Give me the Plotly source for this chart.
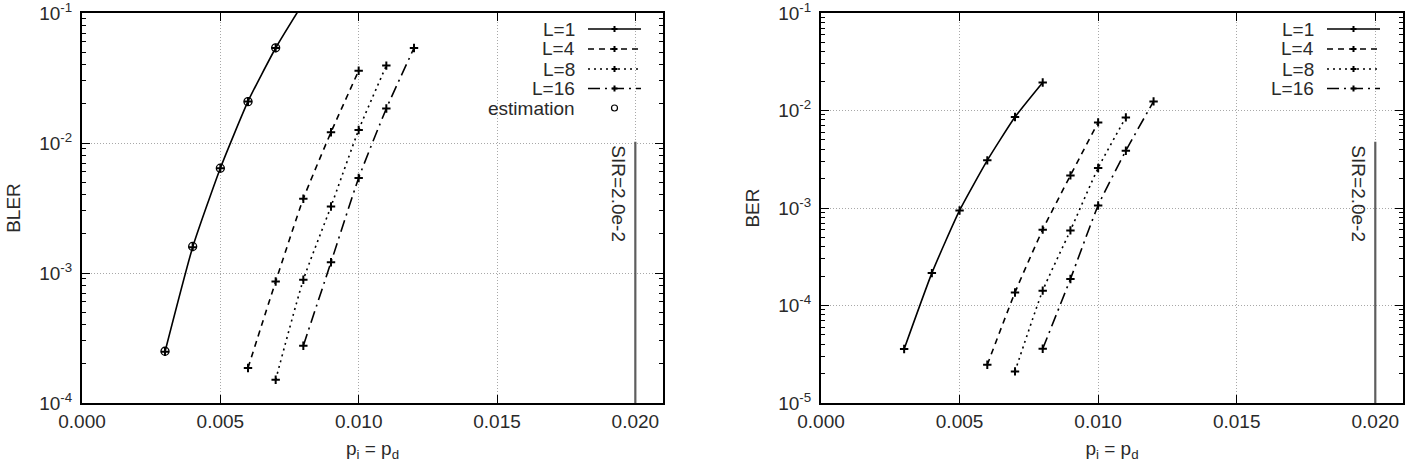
import plotly.graph_objects as go

# ---------------- data ----------------
x_ticks = [0.000, 0.005, 0.010, 0.015, 0.020]
x_ticktext = ["0.000", "0.005", "0.010", "0.015", "0.020"]

bler_yticks = [1e-4, 1e-3, 1e-2, 1e-1]
bler_yticktext = ["10<sup>-4</sup>", "10<sup>-3</sup>", "10<sup>-2</sup>", "10<sup>-1</sup>"]
ber_yticks = [1e-5, 1e-4, 1e-3, 1e-2, 1e-1]
ber_yticktext = ["10<sup>-5</sup>", "10<sup>-4</sup>", "10<sup>-3</sup>", "10<sup>-2</sup>", "10<sup>-1</sup>"]

series_names = ["L=1", "L=4", "L=8", "L=16"]

bler_L1_x = [0.003, 0.004, 0.005, 0.006, 0.007, 0.008]
bler_L1 = [2.48e-4, 1.58e-3, 6.4e-3, 2.09e-2, 5.38e-2, 1.2e-1]
bler_L4_x = [0.006, 0.007, 0.008, 0.009, 0.010]
bler_L4 = [1.86e-4, 8.6e-4, 3.73e-3, 1.21e-2, 3.6e-2]
bler_L8_x = [0.007, 0.008, 0.009, 0.010, 0.011]
bler_L8 = [1.51e-4, 8.87e-4, 3.25e-3, 1.26e-2, 3.94e-2]
bler_L16_x = [0.008, 0.009, 0.010, 0.011, 0.012]
bler_L16 = [2.76e-4, 1.21e-3, 5.38e-3, 1.84e-2, 5.38e-2]
est_x = [0.003, 0.004, 0.005, 0.006, 0.007]
est_bler = [2.5e-4, 1.6e-3, 6.4e-3, 2.08e-2, 5.4e-2]

ber_L1_x = [0.003, 0.004, 0.005, 0.006, 0.007, 0.008]
ber_L1 = [3.58e-5, 2.15e-4, 9.44e-4, 3.08e-3, 8.57e-3, 1.94e-2]
ber_L4_x = [0.006, 0.007, 0.008, 0.009, 0.010]
ber_L4 = [2.47e-5, 1.36e-4, 6.0e-4, 2.16e-3, 7.55e-3]
ber_L8_x = [0.007, 0.008, 0.009, 0.010, 0.011]
ber_L8 = [2.11e-5, 1.42e-4, 5.89e-4, 2.57e-3, 8.5e-3]
ber_L16_x = [0.008, 0.009, 0.010, 0.011, 0.012]
ber_L16 = [3.6e-5, 1.87e-4, 1.06e-3, 3.87e-3, 1.24e-2]

sir_value = 0.020
sir_label = "SIR=2.0e-2"

# ---------------- styling ----------------
W, H = 1416, 468
FONT = "Liberation Sans, Arial, Helvetica, sans-serif"
FS = 19
TXT = "#2a2a2a"
dashes = ["solid", "6px,5px", "2px,4px", "12px,5px,2px,5px"]
GRID_DASH = "1px,2px"

def px(x):
    return x / W

def py(y):
    return 1 - y / H

fig = go.Figure()

left_series = [(bler_L1_x, bler_L1), (bler_L4_x, bler_L4), (bler_L8_x, bler_L8), (bler_L16_x, bler_L16)]
right_series = [(ber_L1_x, ber_L1), (ber_L4_x, ber_L4), (ber_L8_x, ber_L8), (ber_L16_x, ber_L16)]

marker_plus = dict(symbol="cross-thin", size=6, line=dict(color="black", width=2))

for (xs, ys), name, dash in zip(left_series, series_names, dashes):
    fig.add_trace(go.Scatter(
        x=xs, y=ys, name=name, mode="lines+markers",
        line=dict(color="black", width=1.6, dash=dash, shape="spline", smoothing=0.5),
        marker=marker_plus, xaxis="x", yaxis="y", showlegend=False))
fig.add_trace(go.Scatter(
    x=est_x, y=est_bler, name="estimation", mode="markers",
    marker=dict(symbol="circle-open", size=8, color="black", line=dict(color="black", width=1.3)),
    xaxis="x", yaxis="y", showlegend=False))

for (xs, ys), name, dash in zip(right_series, series_names, dashes):
    fig.add_trace(go.Scatter(
        x=xs, y=ys, name=name, mode="lines+markers",
        line=dict(color="black", width=1.6, dash=dash, shape="spline", smoothing=0.5),
        marker=marker_plus, xaxis="x2", yaxis="y2", showlegend=False))

# plot area geometry (px)
L_x0, L_x1 = 82, 663
R_x0, R_x1 = 821, 1403
T_y, B_y = 13, 403

common_x = dict(
    range=[0, 0.021], tickvals=x_ticks, ticktext=x_ticktext, automargin=False,
    ticks="inside", ticklen=8, tickwidth=1, tickcolor="black",
    showline=True, linewidth=2, linecolor="black", mirror="allticks",
    showgrid=True, gridcolor="#a8a8a8", griddash=GRID_DASH, gridwidth=1,
    zeroline=False, tickfont=dict(family=FONT, size=FS, color=TXT),
    ticklabelstandoff=0, ticklabeloverflow="allow",
    title=dict(text="p<sub>i</sub> = p<sub>d</sub>", font=dict(family=FONT, size=FS, color=TXT), standoff=11),
)
common_y = dict(
    type="log", automargin=False,
    ticks="inside", ticklen=8, tickwidth=1, tickcolor="black",
    showline=True, linewidth=2, linecolor="black", mirror="allticks",
    showgrid=True, gridcolor="#a8a8a8", griddash=GRID_DASH, gridwidth=1,
    zeroline=False, tickfont=dict(family=FONT, size=FS, color=TXT),
    ticklabelstandoff=4, ticklabeloverflow="allow",
    minor=dict(ticks="inside", ticklen=4, tickcolor="black", dtick="D1", showgrid=False),
)

fig.update_layout(
    width=W, height=H,
    margin=dict(l=0, r=0, t=0, b=0),
    paper_bgcolor="white", plot_bgcolor="white",
    font=dict(family=FONT, size=FS, color=TXT),
    showlegend=False,
    xaxis=dict(common_x, domain=[px(L_x0), px(L_x1)], anchor="y"),
    yaxis=dict(common_y, domain=[py(B_y), py(T_y)], anchor="x", range=[-4, -1],
               tickvals=bler_yticks, ticktext=bler_yticktext,
               title=dict(text="BLER", font=dict(family=FONT, size=FS, color=TXT), standoff=14)),
    xaxis2=dict(common_x, domain=[px(R_x0), px(R_x1)], anchor="y2"),
    yaxis2=dict(common_y, domain=[py(B_y), py(T_y)], anchor="x2", range=[-5, -1],
                tickvals=ber_yticks, ticktext=ber_yticktext,
                title=dict(text="BER", font=dict(family=FONT, size=FS, color=TXT), standoff=14)),
)

shapes = []
annotations = []

# opaque key boxes (cover grid, under traces)
shapes.append(dict(type="rect", xref="paper", yref="paper", x0=px(482), x1=px(652), y0=py(118), y1=py(T_y + 2),
                   fillcolor="white", line=dict(width=0), layer="between"))
shapes.append(dict(type="rect", xref="paper", yref="paper", x0=px(1262), x1=px(1392), y0=py(98), y1=py(T_y + 2),
                   fillcolor="white", line=dict(width=0), layer="between"))

# SIR lines
for xr, yr in [("x", "y domain"), ("x2", "y2 domain")]:
    shapes.append(dict(type="line", xref=xr, yref=yr, x0=sir_value, x1=sir_value, y0=0, y1=0.67,
                       line=dict(color="#5e5e5e", width=2.2)))
    annotations.append(dict(x=sir_value, y=0.665, xref=xr, yref=yr, text=sir_label, textangle=90,
                            showarrow=False, xanchor="right", yanchor="top", xshift=-4,
                            font=dict(family=FONT, size=FS, color=TXT)))

# custom gnuplot-style keys
def add_key(text_right, s0, s1, rows, labels):
    for i, (yy, lab) in enumerate(zip(rows, labels)):
        annotations.append(dict(x=px(text_right), y=py(yy), xref="paper", yref="paper", text=lab,
                                showarrow=False, xanchor="right", yanchor="middle",
                                font=dict(family=FONT, size=FS, color=TXT)))
        cx = (s0 + s1) / 2
        if i < 4:
            shapes.append(dict(type="line", xref="paper", yref="paper", x0=px(s0), x1=px(s1),
                               y0=py(yy), y1=py(yy), line=dict(color="black", width=1.6, dash=dashes[i])))
            shapes.append(dict(type="path", xref="paper", yref="paper",
                               path=f"M {px(cx-3)},{py(yy)} L {px(cx+3)},{py(yy)} M {px(cx)},{py(yy-3)} L {px(cx)},{py(yy+3)}",
                               line=dict(color="black", width=2)))
        else:
            shapes.append(dict(type="circle", xref="paper", yref="paper",
                               x0=px(cx - 3), x1=px(cx + 3), y0=py(yy + 3), y1=py(yy - 3),
                               line=dict(color="black", width=1.2)))

add_key(577, 588, 641, [29, 49, 69, 88.5, 108], series_names + ["estimation"])
add_key(1316, 1327, 1380, [29, 49, 69, 88.5], series_names)

fig.update_layout(shapes=shapes, annotations=annotations)

fig.write_html("out.html")
